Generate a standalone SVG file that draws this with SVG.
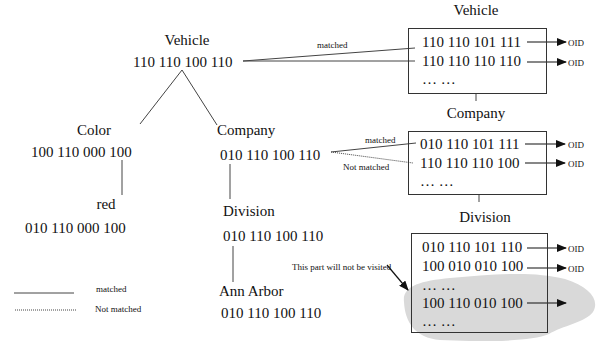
<svg xmlns="http://www.w3.org/2000/svg" width="597" height="341" viewBox="0 0 597 341">
  <style>
    text { font-family: "Liberation Serif", "Times New Roman", serif; fill: #111; }
    .lbl { font-size: 15px; }
    .code { font-size: 15px; }
    .small { font-size: 9px; }
    .edge { stroke: #444; stroke-width: 1; fill: none; }
    .dot { stroke: #444; stroke-width: 1; fill: none; stroke-dasharray: 1 1; }
    .box { stroke: #333; stroke-width: 1; fill: none; }
    .ptr { stroke: #111; stroke-width: 1.2; fill: none; marker-end: url(#head); }
  </style>
  <defs>
    <marker id="head" markerWidth="10" markerHeight="8" refX="9" refY="4" orient="auto" markerUnits="userSpaceOnUse">
      <path d="M0,0 L10,4 L0,8 Z" fill="#111"/>
    </marker>
  </defs>

  <rect width="597" height="341" fill="#fff"/>

  <!-- shaded region of the Division index that is skipped -->
  <path id="skipped-area" d="M404 302 C402 286,420 281,450 278 C490 275,530 270,565 279 C590 287,600 300,593 312 C586 322,562 326,549 334 C530 342,480 342,440 340 C415 338,405 322,404 302 Z" fill="#d9d9d9"/>

  <!-- tree connectors and index links -->
  <g id="connectors">
    <line class="edge" x1="182" y1="70" x2="140" y2="124"/>
    <line class="edge" x1="182" y1="70" x2="217" y2="125"/>
    <line class="edge" x1="122" y1="160" x2="122" y2="195"/>
    <line class="edge" x1="230" y1="164" x2="230" y2="199"/>
    <line class="edge" x1="233" y1="246" x2="233" y2="282"/>
    <line class="edge" x1="243" y1="61" x2="415" y2="48"/>
    <line class="edge" x1="243" y1="61" x2="415" y2="61"/>
    <line class="edge" x1="331" y1="152" x2="416" y2="143"/>
    <line class="dot" x1="331" y1="152" x2="413" y2="163"/>
    <line class="edge" x1="476" y1="93" x2="476" y2="101"/>
    <line class="edge" x1="479" y1="194" x2="479" y2="202"/>
    <line class="ptr" x1="527" y1="42" x2="566" y2="42"/>
    <line class="ptr" x1="527" y1="62" x2="566" y2="62"/>
    <line class="ptr" x1="525" y1="144" x2="565" y2="144"/>
    <line class="ptr" x1="525" y1="163" x2="565" y2="163"/>
    <line class="ptr" x1="527" y1="248" x2="566" y2="248"/>
    <line class="ptr" x1="527" y1="268" x2="566" y2="268"/>
    <line class="ptr" x1="527" y1="303" x2="566" y2="303"/>
    <line class="ptr" x1="387" y1="265" x2="408" y2="290"/>
  </g>

  <!-- tree nodes -->
  <g id="node-vehicle">
    <text class="lbl" x="187" y="45" text-anchor="middle">Vehicle</text>
    <text class="code" x="133" y="67">110 110 100 110</text>
  </g>
  <g id="node-color">
    <text class="lbl" x="94" y="135" text-anchor="middle">Color</text>
    <text class="code" x="31" y="157">100 110 000 100</text>
  </g>
  <g id="node-company">
    <text class="lbl" x="217" y="135">Company</text>
    <text class="code" x="220" y="160">010 110 100 110</text>
  </g>
  <g id="node-red">
    <text class="lbl" x="106" y="209" text-anchor="middle">red</text>
    <text class="code" x="25" y="233">010 110 000 100</text>
  </g>
  <g id="node-division">
    <text class="lbl" x="223" y="216">Division</text>
    <text class="code" x="223" y="241">010 110 100 110</text>
  </g>
  <g id="node-annarbor">
    <text class="lbl" x="219" y="296">Ann Arbor</text>
    <text class="code" x="221" y="318">010 110 100 110</text>
  </g>

  <!-- link labels -->
  <g id="link-labels">
    <text class="small" x="317" y="48">matched</text>
    <text class="small" x="365" y="143">matched</text>
    <text class="small" x="343" y="170">Not matched</text>
    <text class="small" x="292" y="270">This part will not be visited</text>
  </g>

  <!-- index tables -->
  <g id="index-vehicle">
    <text class="lbl" x="476" y="15" text-anchor="middle">Vehicle</text>
    <rect class="box" x="408.5" y="28.5" width="138" height="65"/>
    <text class="code" x="422" y="47">110 110 101 111</text>
    <text class="code" x="422" y="66">110 110 110 110</text>
    <text class="code" x="422" y="84">… …</text>
    <text class="small" x="568" y="46">OID</text>
    <text class="small" x="568" y="66">OID</text>
  </g>
  <g id="index-company">
    <text class="lbl" x="476" y="118" text-anchor="middle">Company</text>
    <rect class="box" x="408.5" y="131.5" width="138" height="63"/>
    <text class="code" x="420" y="149">010 110 101 111</text>
    <text class="code" x="420" y="168">110 110 110 100</text>
    <text class="code" x="420" y="186">… …</text>
    <text class="small" x="568" y="148">OID</text>
    <text class="small" x="568" y="167">OID</text>
  </g>
  <g id="index-division">
    <text class="lbl" x="485" y="222" text-anchor="middle">Division</text>
    <rect class="box" x="411.5" y="233.5" width="136" height="99"/>
    <text class="code" x="422" y="252">010 110 101 110</text>
    <text class="code" x="422" y="271">100 010 010 100</text>
    <text class="code" x="422" y="290">… …</text>
    <text class="code" x="422" y="308">100 110 010 100</text>
    <text class="code" x="422" y="326">… …</text>
    <text class="small" x="568" y="252">OID</text>
    <text class="small" x="568" y="272">OID</text>
  </g>

  <!-- legend -->
  <g id="legend">
    <line class="edge" x1="14" y1="293" x2="74" y2="293"/>
    <line class="dot" x1="15" y1="310" x2="76" y2="310"/>
    <text class="small" x="96" y="292">matched</text>
    <text class="small" x="95" y="312">Not matched</text>
  </g>
</svg>
